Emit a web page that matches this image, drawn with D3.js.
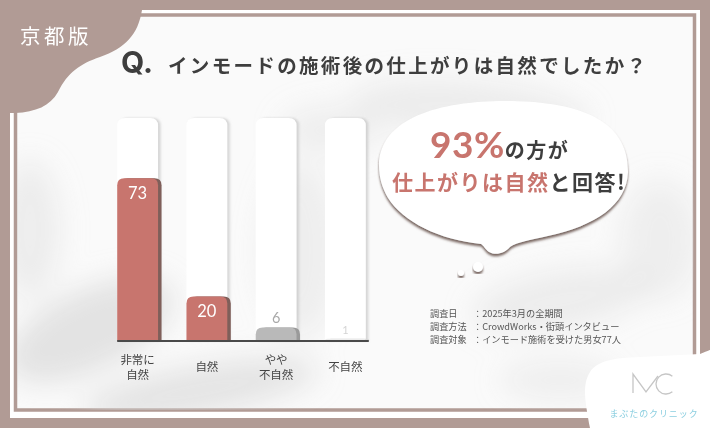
<!DOCTYPE html>
<html><head><meta charset="utf-8">
<script src="https://cdn.jsdelivr.net/npm/d3@7"></script>
<style>
html,body{margin:0;padding:0;background:#b19b95;}
svg{display:block;font-family:"Noto Sans CJK JP","Noto Sans",sans-serif;}
</style></head>
<body>
<svg id="c" width="710" height="428"></svg>
<script>
// ---- data ----
const categories = ["非常に自然", "自然", "やや不自然", "不自然"];
const categoryLines = [["非常に", "自然"], ["自然"], ["やや", "不自然"], ["不自然"]];
const values = [73, 20, 6, 1];
const maxValue = 100;
const titleQ = "Q.";
const titleText = "インモードの施術後の仕上がりは自然でしたか？";
const regionLabel = "京都版";
const bubbleLine1 = [["93%", "accent"], ["の方が", "dark"]];
const bubbleLine2 = [["仕上がりは自然", "accent"], ["と回答!", "dark"]];
const notesLabels = ["調査日", "調査方法", "調査対象"];
const notesValues = ["：2025年3月の全期間", "：CrowdWorks・街頭インタビュー", "：インモード施術を受けた男女77人"];
const brandName = "まぶたのクリニック";

// ---- styles ----
const BROWN = "#b19b95", RED = "#c8756e", RED_SH = "#7f5f5a", DARK = "#3e3e3e";
const barFill = [RED, RED, "#b9b9b9", "#ececec"];
const barShadow = [RED_SH, RED_SH, "#9a9a9a", "#d8d8d8"];

const svg = d3.select("#c");
const defs = svg.append("defs");
defs.append("filter").attr("id", "blur").attr("x", "-50%").attr("y", "-50%").attr("width", "200%").attr("height", "200%")
  .append("feGaussianBlur").attr("stdDeviation", 14);
const ds = defs.append("filter").attr("id", "bshadow").attr("x", "-10%").attr("y", "-10%").attr("width", "130%").attr("height", "130%");
ds.append("feDropShadow").attr("dx", 0).attr("dy", 2.5).attr("stdDeviation", 0.8).attr("flood-color", "#6a5550").attr("flood-opacity", 0.9);
const cs = defs.append("filter").attr("id", "colsh").attr("x", "-20%").attr("y", "-10%").attr("width", "150%").attr("height", "120%");
cs.append("feDropShadow").attr("dx", 2.5).attr("dy", 0).attr("stdDeviation", 1.2).attr("flood-color", "#bdbdbd").attr("flood-opacity", 0.6);
const clip = defs.append("clipPath").attr("id", "inner");
clip.append("rect").attr("x", 17).attr("y", 16).attr("width", 677).attr("height", 394);

// background
svg.append("rect").attr("width", 710).attr("height", 428).attr("fill", BROWN);
svg.append("rect").attr("x", 10).attr("y", 10).attr("width", 690).attr("height", 408).attr("fill", "#fff");
svg.append("rect").attr("x", 15.5).attr("y", 15).attr("width", 679).attr("height", 395)
  .attr("fill", "#fafafa").attr("stroke", BROWN).attr("stroke-width", 3.5);

// smoke texture
const smoke = svg.append("g").attr("clip-path", "url(#inner)").attr("filter", "url(#blur)");
[[90, 330, 90, 40, -25, 0.6], [200, 390, 120, 25, -10, 0.55], [470, 110, 120, 30, 5, 0.35],
 [300, 250, 40, 90, 0, 0.3], [560, 300, 90, 30, -10, 0.35], [330, 130, 50, 25, 0, 0.3],
 [660, 240, 40, 60, 0, 0.3], [30, 230, 30, 70, 0, 0.35], [560, 380, 60, 20, 0, 0.3]].forEach(s => {
  smoke.append("ellipse").attr("cx", s[0]).attr("cy", s[1]).attr("rx", s[2]).attr("ry", s[3])
    .attr("transform", `rotate(${s[4]},${s[0]},${s[1]})`).attr("fill", "#d4d4d4").attr("opacity", s[5]);
});

// top-left blob
svg.append("path")
  .attr("d", "M0,0 L142,0 L142,10 C138,35 125,48 100,57 C80,64 68,72 58,92 C50,106 36,112 15,113 L0,113 Z")
  .attr("fill", BROWN);
svg.append("text").attr("x", 20).attr("y", 44).attr("fill", "#fff").attr("font-size", 20.5)
  .attr("letter-spacing", 3.5).text(regionLabel);

// title
svg.append("text").attr("x", 121).attr("y", 73).attr("fill", DARK).attr("font-size", 30)
  .attr("font-weight", 700).attr("font-family", "Inter,'Noto Sans',sans-serif").text(titleQ);
svg.append("text").attr("x", 168).attr("y", 73).attr("fill", DARK).attr("font-size", 19.5)
  .attr("font-weight", 700).attr("textLength", 478).attr("lengthAdjust", "spacing").text(titleText);

// ---- chart ----
const x = d3.scaleBand().domain(categories).range([103, 380]).paddingInner(0.41).paddingOuter(0.205);
const y = d3.scaleLinear().domain([0, maxValue]).range([341, 118]);
const bw = x.bandwidth();

function topRounded(x0, y0, w, h, r) {
  r = Math.min(r, h, w / 2);
  return `M${x0},${y0 + h} L${x0},${y0 + r} Q${x0},${y0} ${x0 + r},${y0} L${x0 + w - r},${y0} Q${x0 + w},${y0} ${x0 + w},${y0 + r} L${x0 + w},${y0 + h} Z`;
}

const g = svg.append("g");
g.selectAll(".col").data(categories).join("path").attr("class", "col")
  .attr("d", d => topRounded(x(d), y(maxValue), bw, y(0) - y(maxValue), 8))
  .attr("fill", "#fff").attr("filter", "url(#colsh)");
g.selectAll(".bsh").data(values).join("path").attr("class", "bsh")
  .attr("d", (v, i) => topRounded(x(categories[i]) + 3.5, y(v), bw, y(0) - y(v), 7))
  .attr("fill", (v, i) => barShadow[i]);
g.selectAll(".bar").data(values).join("path").attr("class", "bar")
  .attr("d", (v, i) => topRounded(x(categories[i]), y(v), bw, y(0) - y(v), 7))
  .attr("fill", (v, i) => barFill[i]);
const axis = d3.axisBottom(x).tickSize(0).tickFormat("");
const ax = g.append("g").attr("transform", `translate(0,${y(0)})`).call(axis);
ax.select(".domain").attr("stroke", "#4a4a4a").attr("stroke-width", 2.2)
  .attr("d", `M${x(categories[0])},0 H${x(categories[3]) + bw + 3}`);
g.selectAll(".val").data(values).join("text").attr("class", "val")
  .attr("x", (v, i) => x(categories[i]) + bw / 2)
  .attr("y", v => v >= 15 ? y(v) + 21 : y(v) - 4.5)
  .attr("text-anchor", "middle")
  .attr("font-size", v => v >= 15 ? 16.5 : (v >= 5 ? 14.5 : 11))
  .attr("font-family", "Lato,'Noto Sans',sans-serif")
  .attr("fill", v => v >= 15 ? "#fff" : (v >= 5 ? "#a8a8a8" : "#d4d4d4"))
  .text(v => v);
categoryLines.forEach((lines, i) => {
  const cx = x(categories[i]) + bw / 2;
  const startY = lines.length === 1 ? 371 : 363.5;
  lines.forEach((ln, k) => g.append("text").attr("text-anchor", "middle").attr("fill", "#444")
    .attr("font-size", 11.5).attr("x", cx).attr("y", startY + k * 15).text(ln));
});

// ---- speech bubble ----
svg.append("path")
  .attr("d", "M379,166 C379,118 440,101 505,101 C575,101 629,118 628,172 C627,205 595,226 548,236 C530,240 517,242 510,247 C505,253 496,256 489,252 C485,249 484,246 481,244 C440,240 403,222 388,198 C382,188 379,177 379,166 Z")
  .attr("fill", "#fff").attr("filter", "url(#bshadow)");
svg.append("circle").attr("cx", 478).attr("cy", 267).attr("r", 5).attr("fill", "#fff").attr("filter", "url(#bshadow)");
svg.append("circle").attr("cx", 461).attr("cy", 273).attr("r", 3).attr("fill", "#fff").attr("filter", "url(#bshadow)");

function richLine(parts, x0, y0, sizes) {
  const t = svg.append("text").attr("x", x0).attr("y", y0).attr("font-weight", 700);
  parts.forEach((p, i) => t.append("tspan").attr("fill", p[1] === "accent" ? RED : DARK)
    .attr("font-size", sizes[i]).attr("letter-spacing", 1.5).text(p[0]));
  return t;
}
const l1 = richLine(bubbleLine1, 430, 158, [37, 20]);
l1.select("tspan").attr("font-family", "Lato,'Noto Sans',sans-serif").attr("letter-spacing", 0.5);
richLine(bubbleLine2, 392, 190, [21, 21]);

// notes
notesLabels.forEach((lab, i) => {
  const yy = 317 + i * 13;
  svg.append("text").attr("x", 430).attr("y", yy).attr("font-size", 9.2).attr("fill", "#555").text(lab);
  svg.append("text").attr("x", 473).attr("y", yy).attr("font-size", 9.2).attr("fill", "#555").text(notesValues[i]);
});

// bottom-right logo blob
svg.append("path")
  .attr("d", "M590,428 C585,400 582,385 590,372 C598,360 615,358 640,357 L700,354 C705,352 710,350 710,350 L710,428 Z")
  .attr("fill", "#fff");
const logo = svg.append("g").attr("fill", "none").attr("stroke", "#c6c6c6").attr("stroke-width", 1.3);
logo.append("path").attr("d", "M633,393 V374 L646,392 L658,376");
const cp = d3.path(); cp.arc(0, 0, 10, -Math.PI * 0.28, Math.PI * 0.28, true);
logo.append("path").attr("transform", "translate(666,384)").attr("d", cp.toString());
svg.append("text").attr("x", 654).attr("y", 417).attr("text-anchor", "middle").attr("font-size", 9)
  .attr("fill", "#8ccfe0").attr("letter-spacing", 0.9).text(brandName);
</script>
</body></html>
